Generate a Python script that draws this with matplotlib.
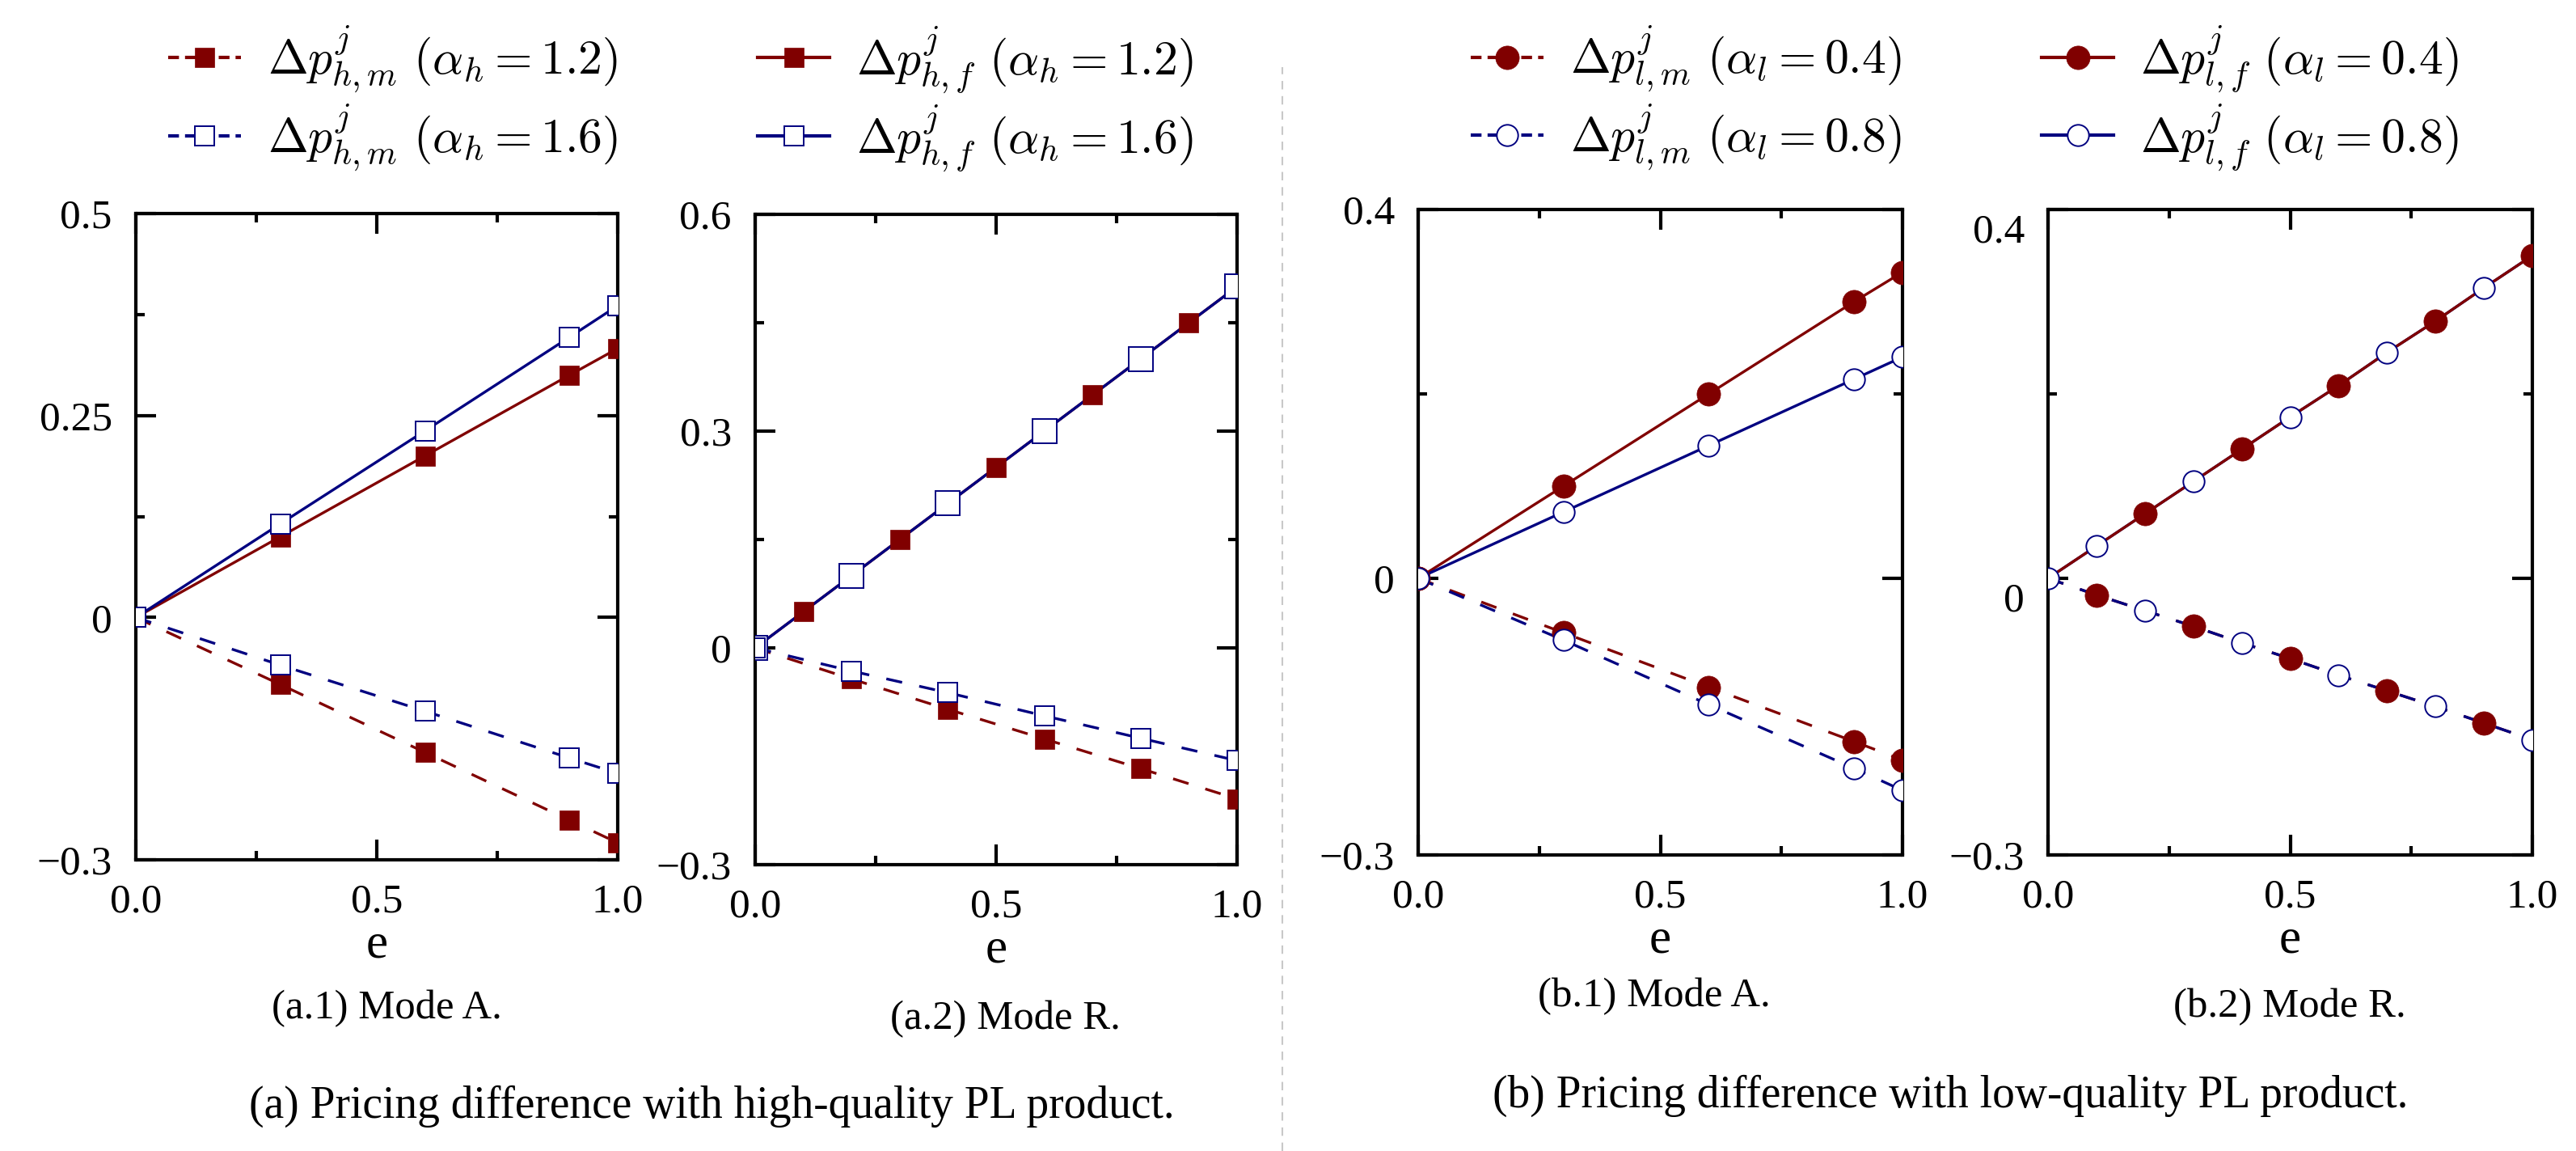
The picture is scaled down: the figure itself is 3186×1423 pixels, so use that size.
import numpy as np
import matplotlib
matplotlib.use("Agg")
import matplotlib.pyplot as plt
from matplotlib.lines import Line2D
from matplotlib.transforms import ScaledTranslation

plt.rcParams['font.family'] = ['Liberation Serif', 'DejaVu Serif']
plt.rcParams['mathtext.fontset'] = 'cm'
plt.rcParams['axes.unicode_minus'] = True

RED = '#800000'
BLUE = '#000080'

# ---------------- data ----------------
# (a.1) Mode A, high quality
a1_e = [0.0, 0.3, 0.6, 0.9, 1.0]
a1_hm_12 = [0.0, -0.083, -0.167, -0.251, -0.279]
a1_hm_16 = [0.0, -0.059, -0.116, -0.174, -0.193]
a1_hf_12 = [0.0, 0.100, 0.200, 0.300, 0.333]
a1_hf_16 = [0.0, 0.116, 0.231, 0.347, 0.386]

# (a.2) Mode R, high quality
a2_e = [0.0, 0.1, 0.2, 0.3, 0.4, 0.5, 0.6, 0.7, 0.8, 0.9, 1.0]
a2_hf_12 = [0.0, 0.05, 0.10, 0.15, 0.20, 0.25, 0.30, 0.35, 0.40, 0.45, 0.50]
a2_hf_16 = [0.0, 0.05, 0.10, 0.15, 0.20, 0.25, 0.30, 0.35, 0.40, 0.45, 0.50]
a2_e_m = [0.0, 0.2, 0.4, 0.6, 0.8, 1.0]
a2_hm_12 = [0.0, -0.043, -0.085, -0.126, -0.167, -0.209]
a2_hm_16 = [0.0, -0.032, -0.062, -0.094, -0.125, -0.156]

# (b.1) Mode A, low quality
b1_e = [0.0, 0.3, 0.6, 0.9, 1.0]
b1_lm_04 = [0.0, -0.059, -0.118, -0.177, -0.197]
b1_lm_08 = [0.0, -0.067, -0.137, -0.206, -0.230]
b1_lf_04 = [0.0, 0.100, 0.200, 0.300, 0.332]
b1_lf_08 = [0.0, 0.072, 0.144, 0.216, 0.240]

# (b.2) Mode R, low quality
b2_e = [0.0, 0.1, 0.2, 0.3, 0.4, 0.5, 0.6, 0.7, 0.8, 0.9, 1.0]
b2_lf_04 = [0.0, 0.035, 0.070, 0.105, 0.140, 0.175, 0.209, 0.245, 0.279, 0.315, 0.350]
b2_lf_08 = [0.0, 0.035, 0.070, 0.105, 0.140, 0.175, 0.209, 0.245, 0.279, 0.315, 0.350]
b2_lm_04 = [0.0, -0.018, -0.035, -0.052, -0.070, -0.087, -0.105, -0.122, -0.139, -0.157, -0.175]
b2_lm_08 = [0.0, -0.018, -0.035, -0.052, -0.070, -0.087, -0.105, -0.122, -0.139, -0.157, -0.175]

x_ticks = [0.0, 0.5, 1.0]
x_ticklabels = ['0.0', '0.5', '1.0']
x_minor = [0.25, 0.75]
a1_yticks = [-0.3, 0.0, 0.25, 0.5]
a1_yticklabels = ['\u22120.3', '0', '0.25', '0.5']
a1_yminor = [0.125, 0.375]
a2_yticks = [-0.3, 0.0, 0.3, 0.6]
a2_yticklabels = ['\u22120.3', '0', '0.3', '0.6']
a2_yminor = [0.15, 0.45]
b_yticks = [-0.3, 0.0, 0.4]
b_yticklabels = ['\u22120.3', '0', '0.4']
b_yminor = [0.2]

leg_a = [r'$\Delta p^{j}_{h,m}\ (\alpha_h = 1.2)$', r'$\Delta p^{j}_{h,m}\ (\alpha_h = 1.6)$',
         r'$\Delta p^{j}_{h,f}\ (\alpha_h = 1.2)$', r'$\Delta p^{j}_{h,f}\ (\alpha_h = 1.6)$']
leg_b = [r'$\Delta p^{j}_{l,m}\ (\alpha_l = 0.4)$', r'$\Delta p^{j}_{l,m}\ (\alpha_l = 0.8)$',
         r'$\Delta p^{j}_{l,f}\ (\alpha_l = 0.4)$', r'$\Delta p^{j}_{l,f}\ (\alpha_l = 0.8)$']

# ---------------- figure ----------------
W, H = 3186, 1423
fig = plt.figure(figsize=(W / 100, H / 100), dpi=100)


def axpos(l, t, r, b):
    return [l / W, 1 - b / H, (r - l) / W, (b - t) / H]


LW = 2.4
DASH = (6, 6.5)
MS_SQ = 17
MS_CI_F = 21
MS_CI_O = 19
MEW = 1.4


def style(ax, ylim, yt, ytl, ymin):
    ax.set_xlim(0, 1)
    ax.set_ylim(*ylim)
    ax.set_xticks(x_ticks)
    ax.set_xticklabels(x_ticklabels)
    ax.set_xticks(x_minor, minor=True)
    ax.set_yticks(yt)
    ax.set_yticklabels(ytl)
    ax.set_yticks(ymin, minor=True)
    ax.tick_params(which='both', direction='in', top=True, right=True,
                   width=3, labelsize=37, pad=21)
    ax.tick_params(which='major', length=18)
    ax.tick_params(which='minor', length=8)
    for s in ax.spines.values():
        s.set_linewidth(3)
    ax.set_xlabel('e', fontsize=44, labelpad=2)


def series(ax, x, y, color, ls, marker, filled, ms, every=None, z=2):
    x = np.asarray(x)
    y = np.asarray(y)
    line, = ax.plot(x, y, zorder=z, color=color, lw=LW)
    if ls == '--':
        line.set_dashes(DASH)
    idx = slice(None) if every is None else every
    ax.plot(x[idx], y[idx], ls='none', marker=marker, ms=ms,
            mfc=color if filled else 'white', mec=color,
            mew=0.5 if filled else MEW, zorder=z + 2)


def handle(color, ls, marker, filled, ms):
    h = Line2D([], [], color=color, lw=LW + 0.6, ls='-', marker=marker, ms=ms,
               mfc=color if filled else 'white', mec=color,
               mew=0.5 if filled else MEW)
    if ls == '--':
        h.set_dashes((3.2, 1.8))
    return h


# (a.1)
ax1 = fig.add_axes(axpos(168, 264, 764, 1063))
series(ax1, a1_e, a1_hf_12, RED, '-', 's', True, MS_SQ)
series(ax1, a1_e, a1_hf_16, BLUE, '-', 's', False, MS_SQ)
series(ax1, a1_e, a1_hm_12, RED, '--', 's', True, MS_SQ)
series(ax1, a1_e, a1_hm_16, BLUE, '--', 's', False, MS_SQ)
style(ax1, (-0.3, 0.5), a1_yticks, a1_yticklabels, a1_yminor)

# (a.2)
ax2 = fig.add_axes(axpos(934, 265, 1530, 1069))
series(ax2, a2_e, a2_hf_12, RED, '-', 's', True, MS_SQ, every=slice(1, None, 2))
series(ax2, a2_e, a2_hf_16, BLUE, '-', 's', False, 21, every=slice(0, None, 2), z=3)
series(ax2, a2_e_m, a2_hm_12, RED, '--', 's', True, MS_SQ)
series(ax2, a2_e_m, a2_hm_16, BLUE, '--', 's', False, MS_SQ, z=3)
style(ax2, (-0.3, 0.6), a2_yticks, a2_yticklabels, a2_yminor)

# (b.1)
ax3 = fig.add_axes(axpos(1754, 259, 2353, 1057))
series(ax3, b1_e, b1_lf_04, RED, '-', 'o', True, MS_CI_F)
series(ax3, b1_e, b1_lf_08, BLUE, '-', 'o', False, MS_CI_O)
series(ax3, b1_e, b1_lm_04, RED, '--', 'o', True, MS_CI_F)
series(ax3, b1_e, b1_lm_08, BLUE, '--', 'o', False, MS_CI_O)
style(ax3, (-0.3, 0.4), b_yticks, b_yticklabels, b_yminor)

# (b.2)
ax4 = fig.add_axes(axpos(2533, 259, 3132, 1057))
series(ax4, b2_e, b2_lf_08, BLUE, '-', 'o', False, MS_CI_O, every=slice(1, None, 2))
series(ax4, b2_e, b2_lf_04, RED, '-', 'o', True, MS_CI_F, every=slice(2, None, 2), z=3)
series(ax4, b2_e, b2_lm_04, RED, '--', 'o', True, MS_CI_F, every=slice(1, None, 2))
series(ax4, b2_e, b2_lm_08, BLUE, '--', 'o', False, MS_CI_O, every=slice(0, None, 2), z=3)
style(ax4, (-0.3, 0.4), b_yticks, b_yticklabels, b_yminor)
off = ScaledTranslation(0, -0.23, fig.dpi_scale_trans)
for lab in ax4.get_yticklabels():
    if lab.get_text() in ('0', '0.4'):
        lab.set_transform(lab.get_transform() + off)

# legends
ha = [handle(RED, '--', 's', True, MS_SQ), handle(BLUE, '--', 's', False, MS_SQ),
      handle(RED, '-', 's', True, MS_SQ), handle(BLUE, '-', 's', False, MS_SQ)]
hb = [handle(RED, '--', 'o', True, MS_CI_F), handle(BLUE, '--', 'o', False, MS_CI_O),
      handle(RED, '-', 'o', True, MS_CI_F), handle(BLUE, '-', 'o', False, MS_CI_O)]
legkw = dict(ncol=2, loc='upper center', frameon=False, fontsize=43,
             handlelength=1.5, handletextpad=0.55, columnspacing=2.9,
             labelspacing=0.15, borderpad=0, borderaxespad=0)
fig.legend(ha, leg_a, bbox_to_anchor=(842 / W, 1 - 30 / H), **legkw)
fig.legend(hb, leg_b, bbox_to_anchor=(2430 / W, 1 - 30 / H), **legkw)

# separator
fig.add_artist(Line2D([1586 / W, 1586 / W], [0, 1 - 83 / H], transform=fig.transFigure,
                      color='#c8c8c8', lw=1.5, ls=(0, (5, 4))))

# captions
fig.text(478 / W, 1 - 1247 / H, '(a.1) Mode A.', ha='center', va='center', fontsize=36.5)
fig.text(1243 / W, 1 - 1260 / H, '(a.2) Mode R.', ha='center', va='center', fontsize=36.5)
fig.text(2046 / W, 1 - 1232 / H, '(b.1) Mode A.', ha='center', va='center', fontsize=36.5)
fig.text(2832 / W, 1 - 1245 / H, '(b.2) Mode R.', ha='center', va='center', fontsize=36.5)
fig.text(880 / W, 1 - 1368 / H, '(a) Pricing difference with high-quality PL product.',
         ha='center', va='center', fontsize=40)
fig.text(2412 / W, 1 - 1355 / H, '(b) Pricing difference with low-quality PL product.',
         ha='center', va='center', fontsize=40)

fig.savefig('out.png', dpi=100)
